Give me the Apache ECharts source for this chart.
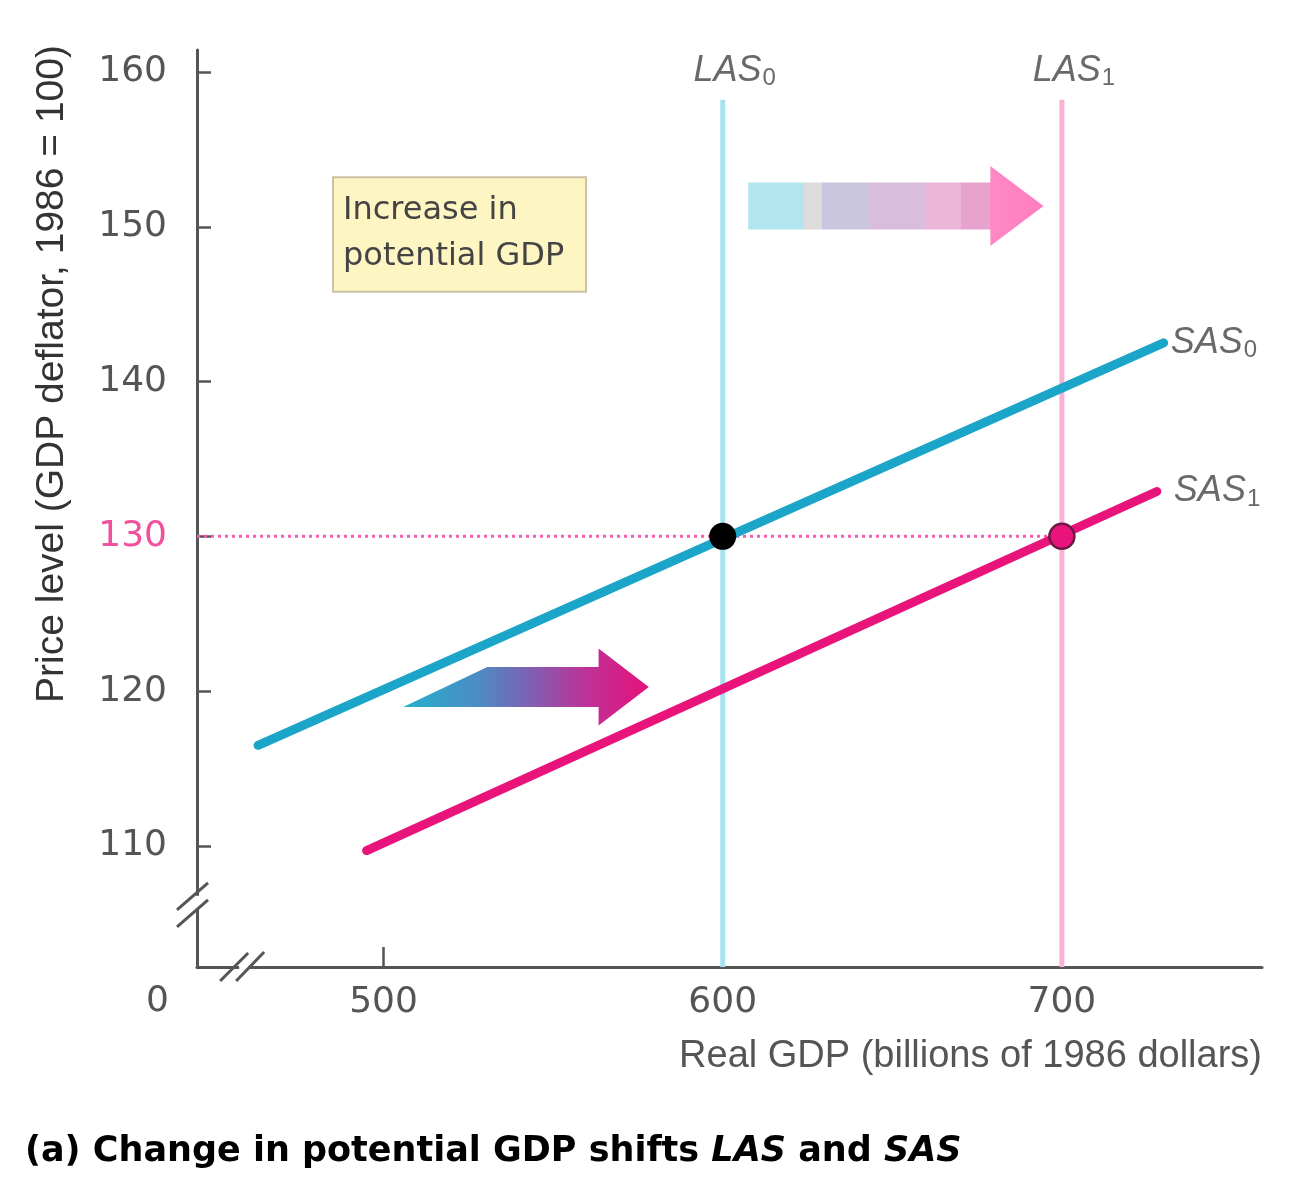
<!DOCTYPE html>
<html><head><meta charset="utf-8">
<script src="https://cdn.jsdelivr.net/npm/echarts@6/dist/echarts.min.js"></script>
<style>html,body{margin:0;padding:0;background:#fff}#c{width:1311px;height:1200px}</style>
</head><body><div id="c"></div>
<script>
// ---- data ----
const xTicks = [500, 600, 700];
const yTicks = [110, 120, 130, 140, 150, 160];
const xRange = [445, 759];
const yRange = [102.18, 161.42];
const sas0 = [[463, 116.5], [730, 142.5]];
const sas1 = [[495, 109.7], [728, 132.9]];
const las0 = [[600, 102.18], [600, 158.2]];
const las1 = [[700, 102.18], [700, 158.2]];
const priceRef = [[445, 130], [700, 130]];
const eq0 = [[600, 130]];
const eq1 = [[700, 130]];
// arrows: polygon vertices in data units
const arrowTop = [[607.5, 149.82], [607.5, 152.86], [678.9, 152.86], [678.9, 153.92], [694.6, 151.34], [678.9, 148.76], [678.9, 149.82]];
const arrowBottom = [[505.8, 118.98], [530.6, 121.56], [563.4, 121.56], [563.4, 122.76], [578.2, 120.27], [563.4, 117.78], [563.4, 118.98]];
const noteBox = [[485.1, 153.2], [559.7, 145.8]];
const noteLines = ['Increase in', 'potential GDP'];
const breakY = [[445, 106.2]];
const breakX = [[458.9, 102.18]];

const FONT = 'DejaVu Sans';
const NARROW = '"Liberation Sans Narrow", "Liberation Sans", sans-serif';
const GREY = '#555';

function subLabel(main, sub) { return '{a|' + main + '}{b|' + sub + '}'; }
const labelRich = {
  a: { fontFamily: NARROW, fontStyle: 'italic', fontSize: 36, color: '#444' },
  b: { fontFamily: NARROW, fontSize: 24, color: '#444', padding: [16, 0, 0, 1] }
};
function labelSeries(pt, text, position, distance, offset) {
  return { type: 'scatter', data: [pt], symbolSize: 2, itemStyle: { color: 'rgba(0,0,0,0)' }, silent: true, z: 8,
    label: { show: true, position: position, distance: distance, offset: offset, formatter: text, rich: labelRich } };
}

const chart = echarts.init(document.getElementById('c'));
const option = {
  animation: false,
  backgroundColor: '#fff',
  grid: { left: 197, right: 49, top: 50, bottom: 233, containLabel: false },
  xAxis: {
    type: 'value', min: xRange[0], max: xRange[1],
    splitLine: { show: false },
    axisLine: { lineStyle: { color: GREY, width: 3 } },
    axisTick: { inside: true, length: 20, customValues: xTicks, lineStyle: { color: GREY, width: 2.5 } },
    axisLabel: { customValues: xTicks, fontFamily: FONT, fontSize: 36, color: GREY, margin: 18 }
  },
  yAxis: {
    type: 'value', min: yRange[0], max: yRange[1],
    splitLine: { show: false },
    axisLine: { lineStyle: { color: GREY, width: 3 } },
    axisTick: { inside: true, length: 14, customValues: yTicks, lineStyle: { color: GREY, width: 2.5 } },
    axisLabel: {
      customValues: yTicks, margin: 30,
      formatter: v => (v === 130 ? '{p|' + v + '}' : '{n|' + v + '}'),
      rich: {
        n: { fontFamily: FONT, fontSize: 36, color: GREY },
        p: { fontFamily: FONT, fontSize: 36, color: '#f0509c' }
      }
    }
  },
  graphic: [
    { type: 'text', left: 146, top: 984, style: { text: '0', fontFamily: FONT, fontSize: 36, fill: GREY } },
    { type: 'text', x: 1262, y: 1057, style: { text: 'Real GDP (billions of 1986 dollars)', fontFamily: NARROW, fontSize: 38, fill: GREY, align: 'right', verticalAlign: 'middle' } },
    { type: 'text', x: 52, y: 374, rotation: Math.PI / 2, style: { text: 'Price level (GDP deflator, 1986 = 100)', fontFamily: NARROW, fontSize: 39, fill: '#333', align: 'center', verticalAlign: 'middle' } },
    { type: 'text', x: 25, y: 1152, style: {
      text: '{r|(a) Change in potential GDP shifts }{i|LAS}{r| and }{i|SAS}',
      verticalAlign: 'middle',
      rich: {
        r: { fontFamily: FONT, fontWeight: 'bold', fontSize: 35, color: '#1a1a1a' },
        i: { fontFamily: FONT, fontWeight: 'bold', fontStyle: 'italic', fontSize: 35, color: '#1a1a1a' }
      } } }
  ],
  series: [
    { type: 'line', data: las0, symbol: 'none', lineStyle: { color: '#a8e2f0', width: 5 }, z: 2 },
    { type: 'line', data: las1, symbol: 'none', lineStyle: { color: '#f9b2d6', width: 5 }, z: 2 },
    { type: 'line', data: priceRef, symbol: 'none', lineStyle: { color: '#f35fae', width: 3, type: [3, 4] }, z: 3 },
    { type: 'line', data: sas0, symbol: 'none', lineStyle: { color: '#1ba6c9', width: 9, cap: 'round' }, z: 4 },
    { type: 'line', data: sas1, symbol: 'none', lineStyle: { color: '#e8137b', width: 9, cap: 'round' }, z: 4 },
    { type: 'scatter', data: eq0, symbolSize: 27, itemStyle: { color: '#000', opacity: 1 }, z: 6 },
    { type: 'scatter', data: eq1, symbolSize: 25, itemStyle: { color: '#e8137b', borderColor: '#6a1a44', borderWidth: 2.5, opacity: 1 }, z: 6 },
    // labels
    labelSeries(las0[1], subLabel('LAS', '0'), 'top', 8, [12, 0]),
    labelSeries(las1[1], subLabel('LAS', '1'), 'top', 8, [12, 0]),
    labelSeries(sas0[1], subLabel('SAS', '0'), 'right', 6, [0, 0]),
    labelSeries(sas1[1], subLabel('SAS', '1'), 'right', 16, [0, 0]),
    // arrows
    { type: 'custom', data: [0], z: 5, silent: true,
      renderItem: (params, api) => ({
        type: 'polygon', shape: { points: arrowTop.map(p => api.coord(p)) },
        style: { fill: new echarts.graphic.LinearGradient(0, 0, 1, 0, [
          { offset: 0, color: '#b3e5f0' }, { offset: 0.19, color: '#b3e5f0' },
          { offset: 0.19, color: '#dcdcdc' }, { offset: 0.25, color: '#dcdcdc' },
          { offset: 0.25, color: '#cbc6e0' }, { offset: 0.41, color: '#cbc6e0' },
          { offset: 0.41, color: '#d9bddd' }, { offset: 0.6, color: '#d9bddd' },
          { offset: 0.6, color: '#ecb6d6' }, { offset: 0.72, color: '#ecb6d6' },
          { offset: 0.72, color: '#e8a2ce' }, { offset: 0.82, color: '#e8a2ce' },
          { offset: 0.82, color: '#ff88c6' }, { offset: 1, color: '#ff7ec0' }
        ]) }
      }) },
    { type: 'custom', data: [0], z: 5, silent: true,
      renderItem: (params, api) => ({
        type: 'polygon', shape: { points: arrowBottom.map(p => api.coord(p)) },
        style: { fill: new echarts.graphic.LinearGradient(0, 0, 1, 0, [
          { offset: 0, color: '#22b0cc' }, { offset: 0.3, color: '#4c8cc4' },
          { offset: 0.5, color: '#7a64b4' }, { offset: 0.72, color: '#b8369a' },
          { offset: 1, color: '#e6107a' }
        ]) }
      }) },
    // note box
    { type: 'custom', data: [0], z: 5, silent: true,
      renderItem: (params, api) => {
        const a = api.coord(noteBox[0]), b = api.coord(noteBox[1]);
        return { type: 'group', children: [
          { type: 'rect', shape: { x: a[0], y: a[1], width: b[0] - a[0], height: b[1] - a[1] },
            style: { fill: '#fdf5c2', stroke: '#c9c2a6', lineWidth: 2 } },
          { type: 'text', style: { x: a[0] + 10, y: a[1] + 33, text: noteLines[0], fontFamily: FONT, fontSize: 32, fill: '#444', verticalAlign: 'middle' } },
          { type: 'text', style: { x: a[0] + 10, y: a[1] + 79, text: noteLines[1], fontFamily: FONT, fontSize: 32, fill: '#444', verticalAlign: 'middle' } }
        ] };
      } },
    // axis breaks
    { type: 'custom', data: breakY, z: 7, silent: true,
      renderItem: (params, api) => {
        const c = api.coord([api.value(0), api.value(1)]);
        const x = c[0] - 5, y = c[1];
        return { type: 'group', children: [
          { type: 'rect', shape: { x: x + 0, y: y - 9, width: 10, height: 14 }, style: { fill: '#fff' } },
          { type: 'line', shape: { x1: x - 15, y1: y + 5, x2: x + 16, y2: y - 22 }, style: { stroke: GREY, lineWidth: 3 } },
          { type: 'line', shape: { x1: x - 15, y1: y + 22, x2: x + 16, y2: y - 5 }, style: { stroke: GREY, lineWidth: 3 } }
        ] };
      } },
    { type: 'custom', data: breakX, z: 7, silent: true,
      renderItem: (params, api) => {
        const c = api.coord([api.value(0), api.value(1)]);
        const x = c[0], y = c[1];
        return { type: 'group', children: [
          { type: 'rect', shape: { x: x - 5, y: y - 5, width: 9, height: 10 }, style: { fill: '#fff' } },
          { type: 'line', shape: { x1: x - 24, y1: y + 14, x2: x + 4, y2: y - 14 }, style: { stroke: GREY, lineWidth: 3 } },
          { type: 'line', shape: { x1: x - 8, y1: y + 14, x2: x + 20, y2: y - 15 }, style: { stroke: GREY, lineWidth: 3 } }
        ] };
      } }
  ]
};
chart.setOption(option);
</script>
</body></html>
